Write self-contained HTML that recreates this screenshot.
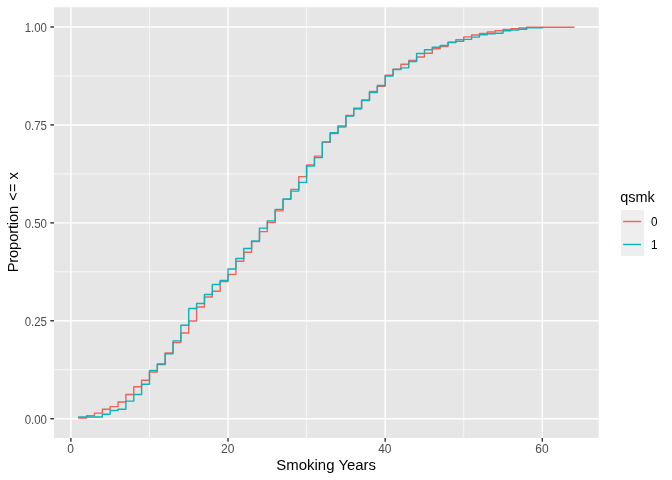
<!DOCTYPE html>
<html><head><meta charset="utf-8"><title>ECDF</title>
<style>html,body{margin:0;padding:0;background:#fff;width:672px;height:480px;overflow:hidden;font-family:"Liberation Sans",sans-serif}</style>
</head><body>
<svg width="672" height="480" viewBox="0 0 672 480" style="position:absolute;left:0;top:0;will-change:transform">
<rect x="0" y="0" width="672" height="480" fill="#ffffff"/>
<rect x="54.00" y="7.25" width="544.70" height="430.75" fill="#E6E6E6"/>
<line x1="54.00" x2="598.70" y1="369.74" y2="369.74" stroke="#fff" stroke-width="0.71"/>
<line x1="54.00" x2="598.70" y1="271.81" y2="271.81" stroke="#fff" stroke-width="0.71"/>
<line x1="54.00" x2="598.70" y1="173.89" y2="173.89" stroke="#fff" stroke-width="0.71"/>
<line x1="54.00" x2="598.70" y1="75.96" y2="75.96" stroke="#fff" stroke-width="0.71"/>
<line x1="149.47" x2="149.47" y1="7.25" y2="438.00" stroke="#fff" stroke-width="0.71"/>
<line x1="306.61" x2="306.61" y1="7.25" y2="438.00" stroke="#fff" stroke-width="0.71"/>
<line x1="463.75" x2="463.75" y1="7.25" y2="438.00" stroke="#fff" stroke-width="0.71"/>
<line x1="54.00" x2="598.70" y1="418.70" y2="418.70" stroke="#fff" stroke-width="1.42"/>
<line x1="54.00" x2="598.70" y1="320.77" y2="320.77" stroke="#fff" stroke-width="1.42"/>
<line x1="54.00" x2="598.70" y1="222.85" y2="222.85" stroke="#fff" stroke-width="1.42"/>
<line x1="54.00" x2="598.70" y1="124.93" y2="124.93" stroke="#fff" stroke-width="1.42"/>
<line x1="54.00" x2="598.70" y1="27.00" y2="27.00" stroke="#fff" stroke-width="1.42"/>
<line x1="70.90" x2="70.90" y1="7.25" y2="438.00" stroke="#fff" stroke-width="1.42"/>
<line x1="228.04" x2="228.04" y1="7.25" y2="438.00" stroke="#fff" stroke-width="1.42"/>
<line x1="385.18" x2="385.18" y1="7.25" y2="438.00" stroke="#fff" stroke-width="1.42"/>
<line x1="542.32" x2="542.32" y1="7.25" y2="438.00" stroke="#fff" stroke-width="1.42"/>
<path d="M78.76 418.00 L86.61 418.00 L86.61 415.80 L94.47 415.80 L94.47 413.10 L102.33 413.10 L102.33 409.21 L110.19 409.21 L110.19 406.61 L118.04 406.61 L118.04 401.96 L125.90 401.96 L125.90 394.47 L133.76 394.47 L133.76 386.82 L141.61 386.82 L141.61 380.23 L149.47 380.23 L149.47 371.99 L157.33 371.99 L157.33 364.49 L165.18 364.49 L165.18 353.00 L173.04 353.00 L173.04 342.51 L180.90 342.51 L180.90 333.02 L188.75 333.02 L188.75 320.97 L196.61 320.97 L196.61 307.04 L204.47 307.04 L204.47 297.04 L212.33 297.04 L212.33 291.30 L220.18 291.30 L220.18 281.56 L228.04 281.56 L228.04 274.56 L235.90 274.56 L235.90 261.32 L243.75 261.32 L243.75 252.33 L251.61 252.33 L251.61 241.59 L259.47 241.59 L259.47 231.59 L267.33 231.59 L267.33 222.45 L275.18 222.45 L275.18 210.86 L283.04 210.86 L283.04 199.37 L290.90 199.37 L290.90 189.38 L298.75 189.38 L298.75 176.64 L306.61 176.64 L306.61 164.89 L314.47 164.89 L314.47 156.15 L322.32 156.15 L322.32 142.41 L330.18 142.41 L330.18 133.42 L338.04 133.42 L338.04 126.92 L345.89 126.92 L345.89 115.43 L353.75 115.43 L353.75 108.94 L361.61 108.94 L361.61 99.94 L369.47 99.94 L369.47 91.45 L377.32 91.45 L377.32 86.20 L385.18 86.20 L385.18 75.21 L393.04 75.21 L393.04 69.22 L400.89 69.22 L400.89 64.22 L408.75 64.22 L408.75 60.47 L416.61 60.47 L416.61 56.98 L424.47 56.98 L424.47 53.23 L432.32 53.23 L432.32 48.73 L440.18 48.73 L440.18 46.49 L448.04 46.49 L448.04 42.49 L455.89 42.49 L455.89 39.59 L463.75 39.59 L463.75 36.89 L471.61 36.89 L471.61 34.99 L479.46 34.99 L479.46 33.44 L487.32 33.44 L487.32 31.95 L495.18 31.95 L495.18 30.70 L503.03 30.70 L503.03 29.45 L510.89 29.45 L510.89 28.70 L518.75 28.70 L518.75 27.95 L526.61 27.95 L526.61 27.30 L534.46 27.30 L534.46 27.30 L542.32 27.30 L542.32 27.30 L550.18 27.30 L550.18 27.30 L558.03 27.30 L558.03 27.30 L565.89 27.30 L565.89 27.30 L573.75 27.30 L573.75 27.30" fill="none" stroke="#F2625A" stroke-width="1.42" stroke-linejoin="round" stroke-linecap="square"/>
<path d="M78.76 416.95 L86.61 416.95 L86.61 416.95 L94.47 416.95 L94.47 416.95 L102.33 416.95 L102.33 414.20 L110.19 414.20 L110.19 410.46 L118.04 410.46 L118.04 409.21 L125.90 409.21 L125.90 401.11 L133.76 401.11 L133.76 394.47 L141.61 394.47 L141.61 384.23 L149.47 384.23 L149.47 370.49 L157.33 370.49 L157.33 363.99 L165.18 363.99 L165.18 353.75 L173.04 353.75 L173.04 340.86 L180.90 340.86 L180.90 325.17 L188.75 325.17 L188.75 308.53 L196.61 308.53 L196.61 303.54 L204.47 303.54 L204.47 294.55 L212.33 294.55 L212.33 284.55 L220.18 284.55 L220.18 280.56 L228.04 280.56 L228.04 269.06 L235.90 269.06 L235.90 258.57 L243.75 258.57 L243.75 248.58 L251.61 248.58 L251.61 240.84 L259.47 240.84 L259.47 228.10 L267.33 228.10 L267.33 220.85 L275.18 220.85 L275.18 209.36 L283.04 209.36 L283.04 198.87 L290.90 198.87 L290.90 191.12 L298.75 191.12 L298.75 182.38 L306.61 182.38 L306.61 165.99 L314.47 165.99 L314.47 157.65 L322.32 157.65 L322.32 141.91 L330.18 141.91 L330.18 132.67 L338.04 132.67 L338.04 125.92 L345.89 125.92 L345.89 115.93 L353.75 115.93 L353.75 108.19 L361.61 108.19 L361.61 100.44 L369.47 100.44 L369.47 92.45 L377.32 92.45 L377.32 85.46 L385.18 85.46 L385.18 75.96 L393.04 75.96 L393.04 69.57 L400.89 69.57 L400.89 67.87 L408.75 67.87 L408.75 61.47 L416.61 61.47 L416.61 53.48 L424.47 53.48 L424.47 49.73 L432.32 49.73 L432.32 47.23 L440.18 47.23 L440.18 45.49 L448.04 45.49 L448.04 42.24 L455.89 42.24 L455.89 41.24 L463.75 41.24 L463.75 39.39 L471.61 39.39 L471.61 37.09 L479.46 37.09 L479.46 34.69 L487.32 34.69 L487.32 33.69 L495.18 33.69 L495.18 33.20 L503.03 33.20 L503.03 30.70 L510.89 30.70 L510.89 29.95 L518.75 29.95 L518.75 29.20 L526.61 29.20 L526.61 27.85 L534.46 27.85 L534.46 27.85 L542.32 27.85 L542.32 27.85" fill="none" stroke="#0CB4BA" stroke-width="1.42" stroke-linejoin="round" stroke-linecap="square"/>
<line x1="50.33" x2="54.00" y1="418.70" y2="418.70" stroke="#333" stroke-width="1.42"/>
<line x1="50.33" x2="54.00" y1="320.77" y2="320.77" stroke="#333" stroke-width="1.42"/>
<line x1="50.33" x2="54.00" y1="222.85" y2="222.85" stroke="#333" stroke-width="1.42"/>
<line x1="50.33" x2="54.00" y1="124.93" y2="124.93" stroke="#333" stroke-width="1.42"/>
<line x1="50.33" x2="54.00" y1="27.00" y2="27.00" stroke="#333" stroke-width="1.42"/>
<line x1="70.90" x2="70.90" y1="438.00" y2="441.67" stroke="#333" stroke-width="1.42"/>
<line x1="228.04" x2="228.04" y1="438.00" y2="441.67" stroke="#333" stroke-width="1.42"/>
<line x1="385.18" x2="385.18" y1="438.00" y2="441.67" stroke="#333" stroke-width="1.42"/>
<line x1="542.32" x2="542.32" y1="438.00" y2="441.67" stroke="#333" stroke-width="1.42"/>
<rect x="621" y="210" width="23" height="46" fill="#EEEEEE"/>
<line x1="623.1" x2="641.1" y1="221.5" y2="221.5" stroke="#F2625A" stroke-width="1.42"/>
<line x1="623.1" x2="641.1" y1="244.5" y2="244.5" stroke="#0CB4BA" stroke-width="1.42"/>
<text transform="translate(47.00,423.60) scale(0.980,1.050)" font-family="Liberation Sans, sans-serif" font-size="11.73" fill="#4D4D4D" text-anchor="end">0.00</text>
<text transform="translate(47.00,325.67) scale(0.980,1.050)" font-family="Liberation Sans, sans-serif" font-size="11.73" fill="#4D4D4D" text-anchor="end">0.25</text>
<text transform="translate(47.00,227.75) scale(0.980,1.050)" font-family="Liberation Sans, sans-serif" font-size="11.73" fill="#4D4D4D" text-anchor="end">0.50</text>
<text transform="translate(47.00,129.83) scale(0.980,1.050)" font-family="Liberation Sans, sans-serif" font-size="11.73" fill="#4D4D4D" text-anchor="end">0.75</text>
<text transform="translate(47.00,31.90) scale(0.980,1.050)" font-family="Liberation Sans, sans-serif" font-size="11.73" fill="#4D4D4D" text-anchor="end">1.00</text>
<text transform="translate(70.60,453.40) scale(1.020,1.050)" font-family="Liberation Sans, sans-serif" font-size="11.73" fill="#4D4D4D" text-anchor="middle">0</text>
<text transform="translate(227.74,453.40) scale(1.020,1.050)" font-family="Liberation Sans, sans-serif" font-size="11.73" fill="#4D4D4D" text-anchor="middle">20</text>
<text transform="translate(384.88,453.40) scale(1.020,1.050)" font-family="Liberation Sans, sans-serif" font-size="11.73" fill="#4D4D4D" text-anchor="middle">40</text>
<text transform="translate(542.02,453.40) scale(1.020,1.050)" font-family="Liberation Sans, sans-serif" font-size="11.73" fill="#4D4D4D" text-anchor="middle">60</text>
<text transform="translate(326.20,469.80) scale(1.020,1.050)" font-family="Liberation Sans, sans-serif" font-size="14.67" fill="#000" text-anchor="middle">Smoking Years</text>
<text transform="translate(17.7,272.3) rotate(-90) scale(1,1.050)" font-family="Liberation Sans, sans-serif" font-size="14.67" fill="#000" text-anchor="start"><tspan letter-spacing="-0.13">Proportion</tspan><tspan dx="1.2"> &lt;= x</tspan></text>
<text transform="translate(620.30,202.00) scale(0.985,1.050)" font-family="Liberation Sans, sans-serif" font-size="14.67" fill="#000" text-anchor="start">qsmk</text>
<text transform="translate(651.10,225.90) scale(1.000,1.050)" font-family="Liberation Sans, sans-serif" font-size="11.73" fill="#000" text-anchor="start">0</text>
<text transform="translate(651.10,248.90) scale(1.000,1.050)" font-family="Liberation Sans, sans-serif" font-size="11.73" fill="#000" text-anchor="start">1</text>
</svg>
</body></html>
